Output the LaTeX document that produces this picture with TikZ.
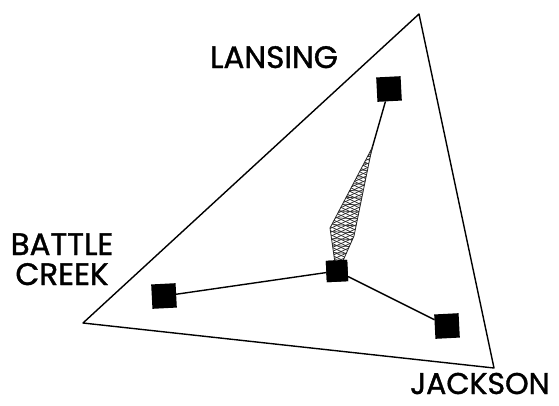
\documentclass[tikz,border=0pt]{standalone}
\usepackage{fontspec}
\setmainfont{Poppins}
\newfontfamily\placefont[FakeBold=1.2]{Poppins}
\usepackage{tikz}

\begin{document}
\begin{tikzpicture}[x=1pt, y=-1pt, line width=1.4pt,
	city/.style={draw=black, fill=black, minimum size=23pt, inner sep=0pt, rotate=3},
	place/.style={font=\placefont\fontsize{31}{34}\selectfont, anchor=base, inner sep=0pt}]
	\useasboundingbox (0,0) rectangle (559,405);
	% the triangle
	\coordinate (tv) at (419,14);
	\coordinate (lv) at (83,323);
	\coordinate (rv) at (494,368);
	\draw[line join=round] (tv) -- (lv) -- (rv) -- cycle;
	% the four places
	\node[city] (lansing) at (389,89) {};
	\node[city] (battle) at (164,296) {};
	\node[city] (jackson) at (447,326) {};
	\node[city, minimum size=20pt] (hub) at (337,271) {};
	\node[place] (lansingtext) at (274,68) {LANSING};
	\node[place] (battletext) at (62,255) {BATTLE};
	\node[place] (creektext) at (62,285) {CREEK};
	\node[place, font=\placefont\fontsize{30}{34}\selectfont] (jacksontext) at (480,394) {JACKSON};
	% the lines
	\draw (battle) -- (hub);
	\draw (jackson) -- (hub);
	\draw (lansing) -- (hub);
	% the lattice
	\begin{scope}[line width=0.7pt]
		\fill[white] (372,148) -- (330,228) -- (335,263) -- (342,263) -- (354,236) -- cycle;
		\clip (372,148) -- (330,228) -- (335,263) -- (342,263) -- (354,236) -- cycle;
		\foreach \i in {0,4,...,160}
			{\draw[black!85] (300,130+\i) -- (400,85+\i);
			 \draw[black!85] (300,85+\i) -- (400,130+\i);}
		\foreach \i in {0,7,...,120}
			\draw[black!80] (320,140+\i) -- (380,143+\i);
	\end{scope}
	\draw[line width=0.8pt, black!85] (372,148) -- (330,228) -- (335,263) -- (342,263) -- (354,236) -- cycle;
	\node[city, minimum size=20pt] (hubcover) at (hub) {};
\end{tikzpicture}
\end{document}
